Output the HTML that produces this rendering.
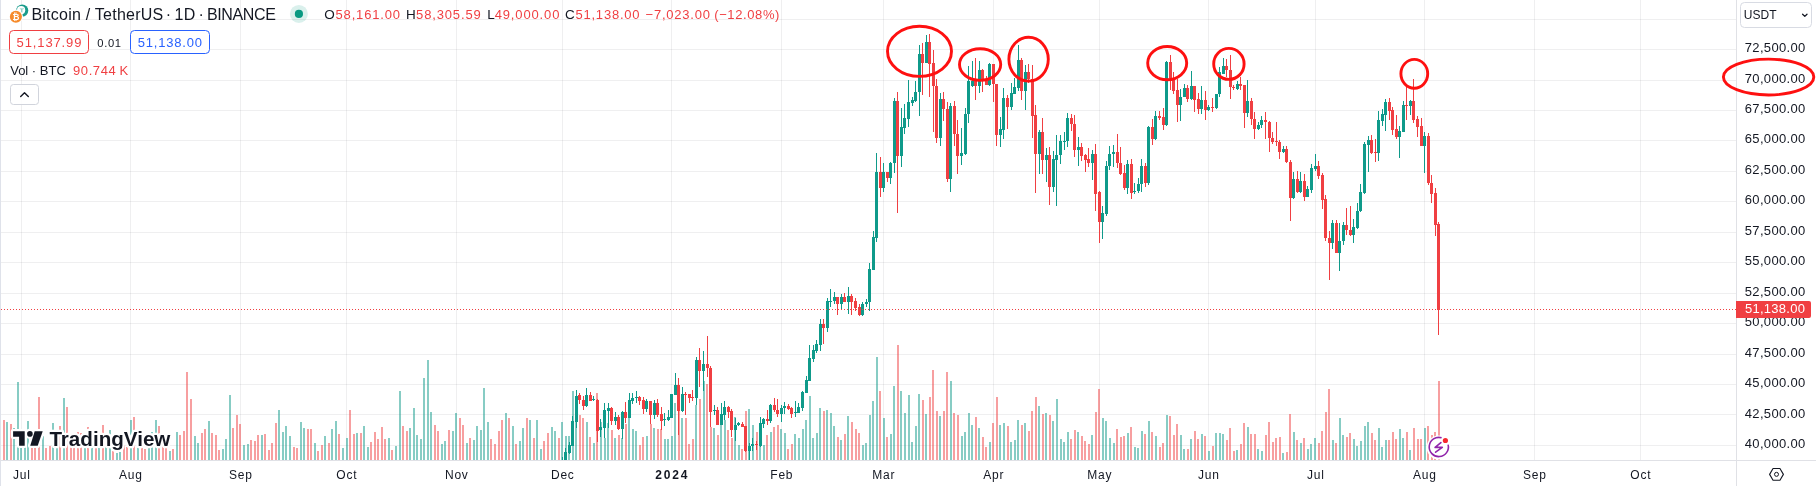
<!DOCTYPE html><html><head><meta charset="utf-8"><title>BTCUSDT chart</title><style>
html,body{margin:0;padding:0;background:#fff;}
#root{position:relative;width:1816px;height:486px;overflow:hidden;background:#fff;}
svg{position:absolute;left:0;top:0;display:block;will-change:transform;}
text{font-family:'Liberation Sans', Arial, sans-serif;}
</style></head><body><div id="root">
<svg width="1816" height="486" viewBox="0 0 1816 486">
<defs><clipPath id="cp"><rect x="1" y="0" width="1735" height="460"/></clipPath></defs>
<rect x="0" y="0" width="1816" height="486" fill="#fff"/>
<path d="M21.5 0V460M130.5 0V460M240.5 0V460M346.5 0V460M456.5 0V460M562.5 0V460M671.5 0V460M781.5 0V460M883.5 0V460M993.5 0V460M1099.5 0V460M1208.5 0V460M1315.5 0V460M1424.5 0V460M1534.5 0V460M1640.5 0V460" stroke="#2a2e39" stroke-opacity="0.075" stroke-width="1" fill="none"/>
<path d="M1 19.5H1736M1 49.5H1736M1 80.5H1736M1 110.5H1736M1 140.5H1736M1 171.5H1736M1 201.5H1736M1 232.5H1736M1 262.5H1736M1 293.5H1736M1 323.5H1736M1 354.5H1736M1 384.5H1736M1 414.5H1736M1 445.5H1736" stroke="#2a2e39" stroke-opacity="0.075" stroke-width="1" fill="none"/>
<path d="M6 422h2V460h-2zM13 428h2V460h-2zM17 382h2V460h-2zM20 438h2V460h-2zM24 438h2V460h-2zM27 421h2V460h-2zM42 436h2V460h-2zM52 423h2V460h-2zM56 438h2V460h-2zM63 398h2V460h-2zM84 438h2V460h-2zM91 438h2V460h-2zM98 438h2V460h-2zM105 438h2V460h-2zM109 430h2V460h-2zM116 453h2V460h-2zM119 452h2V460h-2zM130 420h2V460h-2zM137 438h2V460h-2zM148 438h2V460h-2zM151 432h2V460h-2zM155 420h2V460h-2zM169 451h2V460h-2zM176 432h2V460h-2zM194 436h2V460h-2zM197 443h2V460h-2zM208 421h2V460h-2zM222 449h2V460h-2zM225 439h2V460h-2zM229 395h2V460h-2zM243 445h2V460h-2zM247 444h2V460h-2zM261 435h2V460h-2zM278 410h2V460h-2zM282 432h2V460h-2zM285 426h2V460h-2zM289 436h2V460h-2zM300 422h2V460h-2zM303 428h2V460h-2zM314 443h2V460h-2zM324 436h2V460h-2zM331 429h2V460h-2zM335 421h2V460h-2zM342 448h2V460h-2zM346 438h2V460h-2zM356 433h2V460h-2zM363 426h2V460h-2zM367 447h2V460h-2zM388 438h2V460h-2zM395 446h2V460h-2zM399 391h2V460h-2zM409 428h2V460h-2zM413 408h2V460h-2zM416 435h2V460h-2zM420 439h2V460h-2zM423 378h2V460h-2zM427 360h2V460h-2zM430 412h2V460h-2zM441 444h2V460h-2zM444 441h2V460h-2zM452 431h2V460h-2zM455 413h2V460h-2zM466 443h2V460h-2zM473 440h2V460h-2zM476 426h2V460h-2zM480 430h2V460h-2zM483 388h2V460h-2zM487 422h2V460h-2zM505 413h2V460h-2zM512 426h2V460h-2zM519 441h2V460h-2zM522 428h2V460h-2zM529 420h2V460h-2zM536 420h2V460h-2zM540 449h2V460h-2zM551 427h2V460h-2zM554 431h2V460h-2zM561 422h2V460h-2zM565 436h2V460h-2zM568 436h2V460h-2zM572 391h2V460h-2zM575 405h2V460h-2zM586 422h2V460h-2zM593 443h2V460h-2zM600 422h2V460h-2zM604 438h2V460h-2zM607 423h2V460h-2zM614 438h2V460h-2zM621 438h2V460h-2zM628 418h2V460h-2zM632 429h2V460h-2zM635 431h2V460h-2zM646 436h2V460h-2zM653 428h2V460h-2zM664 439h2V460h-2zM667 439h2V460h-2zM671 436h2V460h-2zM674 403h2V460h-2zM681 418h2V460h-2zM695 405h2V460h-2zM703 381h2V460h-2zM713 428h2V460h-2zM720 425h2V460h-2zM724 420h2V460h-2zM734 417h2V460h-2zM738 445h2V460h-2zM748 409h2V460h-2zM752 425h2V460h-2zM759 445h2V460h-2zM763 445h2V460h-2zM770 432h2V460h-2zM780 429h2V460h-2zM784 433h2V460h-2zM794 434h2V460h-2zM798 438h2V460h-2zM802 429h2V460h-2zM805 420h2V460h-2zM809 396h2V460h-2zM812 438h2V460h-2zM816 433h2V460h-2zM819 408h2V460h-2zM826 410h2V460h-2zM830 413h2V460h-2zM833 426h2V460h-2zM840 440h2V460h-2zM847 416h2V460h-2zM862 445h2V460h-2zM865 443h2V460h-2zM869 415h2V460h-2zM872 401h2V460h-2zM876 357h2V460h-2zM883 418h2V460h-2zM890 434h2V460h-2zM893 386h2V460h-2zM900 391h2V460h-2zM904 413h2V460h-2zM908 395h2V460h-2zM911 442h2V460h-2zM915 426h2V460h-2zM918 394h2V460h-2zM925 414h2V460h-2zM939 416h2V460h-2zM950 381h2V460h-2zM961 436h2V460h-2zM964 432h2V460h-2zM968 413h2V460h-2zM971 425h2V460h-2zM978 428h2V460h-2zM989 442h2V460h-2zM999 425h2V460h-2zM1003 423h2V460h-2zM1010 442h2V460h-2zM1014 440h2V460h-2zM1017 420h2V460h-2zM1024 423h2V460h-2zM1038 406h2V460h-2zM1045 413h2V460h-2zM1052 421h2V460h-2zM1056 399h2V460h-2zM1060 439h2V460h-2zM1063 442h2V460h-2zM1067 432h2V460h-2zM1077 432h2V460h-2zM1091 435h2V460h-2zM1102 418h2V460h-2zM1105 421h2V460h-2zM1109 438h2V460h-2zM1113 443h2V460h-2zM1127 433h2V460h-2zM1134 447h2V460h-2zM1137 448h2V460h-2zM1141 431h2V460h-2zM1148 421h2V460h-2zM1155 436h2V460h-2zM1166 415h2V460h-2zM1180 435h2V460h-2zM1183 449h2V460h-2zM1190 439h2V460h-2zM1201 434h2V460h-2zM1208 451h2V460h-2zM1215 433h2V460h-2zM1219 433h2V460h-2zM1222 434h2V460h-2zM1236 450h2V460h-2zM1247 427h2V460h-2zM1257 449h2V460h-2zM1261 451h2V460h-2zM1282 453h2V460h-2zM1293 432h2V460h-2zM1300 443h2V460h-2zM1307 449h2V460h-2zM1310 444h2V460h-2zM1314 438h2V460h-2zM1332 440h2V460h-2zM1339 418h2V460h-2zM1342 435h2V460h-2zM1353 439h2V460h-2zM1356 446h2V460h-2zM1360 441h2V460h-2zM1364 426h2V460h-2zM1367 422h2V460h-2zM1378 428h2V460h-2zM1381 447h2V460h-2zM1385 440h2V460h-2zM1399 429h2V460h-2zM1402 438h2V460h-2zM1409 450h2V460h-2zM1424 428h2V460h-2z" fill="#0f9a8a" fill-opacity="0.5"/>
<path d="M3 420h2V460h-2zM10 424h2V460h-2zM31 438h2V460h-2zM34 438h2V460h-2zM38 397h2V460h-2zM45 448h2V460h-2zM49 446h2V460h-2zM59 426h2V460h-2zM66 407h2V460h-2zM70 438h2V460h-2zM73 438h2V460h-2zM77 432h2V460h-2zM80 433h2V460h-2zM87 427h2V460h-2zM95 438h2V460h-2zM102 425h2V460h-2zM112 451h2V460h-2zM123 445h2V460h-2zM126 447h2V460h-2zM133 417h2V460h-2zM141 438h2V460h-2zM144 449h2V460h-2zM158 426h2V460h-2zM162 440h2V460h-2zM165 448h2V460h-2zM172 449h2V460h-2zM179 435h2V460h-2zM183 431h2V460h-2zM186 372h2V460h-2zM190 399h2V460h-2zM201 433h2V460h-2zM204 429h2V460h-2zM211 433h2V460h-2zM215 435h2V460h-2zM218 450h2V460h-2zM232 428h2V460h-2zM236 415h2V460h-2zM239 424h2V460h-2zM250 440h2V460h-2zM254 441h2V460h-2zM257 435h2V460h-2zM264 434h2V460h-2zM268 450h2V460h-2zM271 443h2V460h-2zM275 423h2V460h-2zM293 447h2V460h-2zM296 448h2V460h-2zM307 429h2V460h-2zM310 429h2V460h-2zM317 451h2V460h-2zM321 445h2V460h-2zM328 443h2V460h-2zM338 434h2V460h-2zM349 410h2V460h-2zM353 434h2V460h-2zM360 433h2V460h-2zM370 442h2V460h-2zM374 432h2V460h-2zM377 439h2V460h-2zM381 427h2V460h-2zM384 439h2V460h-2zM391 450h2V460h-2zM402 426h2V460h-2zM406 431h2V460h-2zM434 425h2V460h-2zM437 431h2V460h-2zM448 430h2V460h-2zM459 418h2V460h-2zM462 425h2V460h-2zM469 438h2V460h-2zM490 439h2V460h-2zM494 444h2V460h-2zM498 431h2V460h-2zM501 420h2V460h-2zM508 418h2V460h-2zM515 444h2V460h-2zM526 418h2V460h-2zM533 438h2V460h-2zM543 441h2V460h-2zM547 433h2V460h-2zM558 438h2V460h-2zM579 415h2V460h-2zM582 418h2V460h-2zM589 437h2V460h-2zM596 393h2V460h-2zM611 430h2V460h-2zM618 435h2V460h-2zM625 424h2V460h-2zM639 445h2V460h-2zM642 437h2V460h-2zM650 424h2V460h-2zM657 429h2V460h-2zM660 429h2V460h-2zM678 400h2V460h-2zM685 418h2V460h-2zM688 444h2V460h-2zM692 439h2V460h-2zM699 399h2V460h-2zM706 384h2V460h-2zM710 427h2V460h-2zM717 435h2V460h-2zM727 430h2V460h-2zM731 438h2V460h-2zM741 449h2V460h-2zM745 411h2V460h-2zM756 432h2V460h-2zM766 435h2V460h-2zM773 427h2V460h-2zM777 425h2V460h-2zM787 449h2V460h-2zM791 444h2V460h-2zM823 411h2V460h-2zM837 437h2V460h-2zM844 434h2V460h-2zM851 422h2V460h-2zM855 429h2V460h-2zM858 433h2V460h-2zM879 391h2V460h-2zM886 437h2V460h-2zM897 345h2V460h-2zM922 400h2V460h-2zM929 397h2V460h-2zM932 370h2V460h-2zM936 411h2V460h-2zM943 411h2V460h-2zM946 372h2V460h-2zM953 413h2V460h-2zM957 415h2V460h-2zM975 417h2V460h-2zM982 437h2V460h-2zM985 447h2V460h-2zM992 423h2V460h-2zM996 397h2V460h-2zM1007 426h2V460h-2zM1021 425h2V460h-2zM1028 431h2V460h-2zM1031 411h2V460h-2zM1035 397h2V460h-2zM1042 414h2V460h-2zM1049 415h2V460h-2zM1070 439h2V460h-2zM1074 430h2V460h-2zM1081 436h2V460h-2zM1084 441h2V460h-2zM1088 444h2V460h-2zM1095 412h2V460h-2zM1098 389h2V460h-2zM1116 429h2V460h-2zM1120 437h2V460h-2zM1123 436h2V460h-2zM1130 427h2V460h-2zM1144 434h2V460h-2zM1151 432h2V460h-2zM1159 447h2V460h-2zM1162 443h2V460h-2zM1169 416h2V460h-2zM1173 435h2V460h-2zM1176 424h2V460h-2zM1187 449h2V460h-2zM1194 431h2V460h-2zM1197 439h2V460h-2zM1204 436h2V460h-2zM1212 446h2V460h-2zM1226 440h2V460h-2zM1229 428h2V460h-2zM1233 451h2V460h-2zM1240 444h2V460h-2zM1243 423h2V460h-2zM1250 434h2V460h-2zM1254 434h2V460h-2zM1265 435h2V460h-2zM1268 422h2V460h-2zM1272 442h2V460h-2zM1275 438h2V460h-2zM1279 437h2V460h-2zM1286 452h2V460h-2zM1289 414h2V460h-2zM1296 440h2V460h-2zM1303 438h2V460h-2zM1318 443h2V460h-2zM1321 431h2V460h-2zM1325 412h2V460h-2zM1328 389h2V460h-2zM1335 443h2V460h-2zM1346 437h2V460h-2zM1349 433h2V460h-2zM1371 433h2V460h-2zM1374 440h2V460h-2zM1388 440h2V460h-2zM1392 432h2V460h-2zM1395 439h2V460h-2zM1406 432h2V460h-2zM1413 428h2V460h-2zM1417 439h2V460h-2zM1420 439h2V460h-2zM1427 426h2V460h-2zM1431 435h2V460h-2zM1434 432h2V460h-2zM1438 381h2V460h-2z" fill="#f03f42" fill-opacity="0.5"/>
<g clip-path="url(#cp)"><path d="M561 461h3v9h-3zM562 457h1v13h-1zM564 452h3v9h-3zM565 448h1v14h-1zM568 445h3v8h-3zM569 442h1v12h-1zM571 421h3v25h-3zM572 416h1v30h-1zM575 396h3v26h-3zM576 390h1v38h-1zM585 395h3v11h-3zM586 388h1v19h-1zM592 399h3v1h-3zM593 396h1v5h-1zM599 427h3v3h-3zM600 419h1v18h-1zM603 410h3v18h-3zM604 403h1v35h-1zM607 408h3v3h-3zM608 403h1v25h-1zM614 417h3v4h-3zM615 412h1v13h-1zM621 412h3v17h-3zM622 411h1v28h-1zM628 400h3v18h-3zM629 393h1v25h-1zM631 398h3v3h-3zM632 393h1v11h-1zM635 397h3v1h-3zM636 391h1v12h-1zM645 401h3v8h-3zM646 399h1v13h-1zM653 403h3v12h-3zM654 400h1v19h-1zM663 419h3v1h-3zM664 413h1v13h-1zM667 417h3v3h-3zM668 410h1v11h-1zM670 394h3v24h-3zM671 394h1v24h-1zM674 385h3v10h-3zM675 373h1v22h-1zM681 394h3v17h-3zM682 387h1v25h-1zM695 360h3v38h-3zM696 357h1v48h-1zM702 364h3v7h-3zM703 351h1v40h-1zM713 410h3v1h-3zM714 405h1v10h-1zM720 414h3v11h-3zM721 403h1v22h-1zM723 407h3v8h-3zM724 401h1v19h-1zM734 425h3v5h-3zM735 418h1v23h-1zM737 423h3v2h-3zM738 422h1v4h-1zM748 446h3v5h-3zM749 443h1v17h-1zM751 444h3v2h-3zM752 438h1v13h-1zM759 423h3v23h-3zM760 417h1v30h-1zM762 419h3v5h-3zM763 418h1v10h-1zM769 405h3v16h-3zM770 404h1v19h-1zM780 408h3v6h-3zM781 405h1v17h-1zM783 406h3v2h-3zM784 402h1v12h-1zM794 412h3v1h-3zM795 401h1v16h-1zM797 407h3v6h-3zM798 403h1v10h-1zM801 392h3v16h-3zM802 391h1v20h-1zM805 380h3v13h-3zM806 376h1v17h-1zM808 358h3v23h-3zM809 345h1v36h-1zM812 350h3v9h-3zM813 345h1v17h-1zM815 344h3v7h-3zM816 340h1v13h-1zM819 324h3v21h-3zM820 319h1v32h-1zM826 301h3v27h-3zM827 298h1v34h-1zM829 301h3v1h-3zM830 289h1v18h-1zM833 297h3v4h-3zM834 292h1v12h-1zM840 297h3v7h-3zM841 294h1v15h-1zM847 296h3v6h-3zM848 287h1v27h-1zM861 304h3v11h-3zM862 302h1v14h-1zM865 302h3v2h-3zM866 299h1v8h-1zM868 269h3v33h-3zM869 263h1v48h-1zM872 237h3v33h-3zM873 231h1v39h-1zM875 172h3v66h-3zM876 153h1v89h-1zM882 172h3v16h-3zM883 163h1v29h-1zM889 163h3v15h-3zM890 162h1v22h-1zM893 101h3v62h-3zM894 98h1v75h-1zM900 127h3v29h-3zM901 108h1v59h-1zM903 118h3v10h-3zM904 104h1v30h-1zM907 102h3v17h-3zM908 80h1v47h-1zM911 100h3v3h-3zM912 97h1v9h-1zM914 92h3v9h-3zM915 81h1v21h-1zM918 54h3v38h-3zM919 45h1v71h-1zM925 42h3v21h-3zM926 35h1v28h-1zM939 99h3v39h-3zM940 93h1v53h-1zM949 106h3v73h-3zM950 103h1v89h-1zM960 153h3v3h-3zM961 128h1v37h-1zM964 114h3v40h-3zM965 108h1v47h-1zM967 81h3v33h-3zM968 66h1v57h-1zM971 81h3v5h-3zM972 61h1v26h-1zM978 70h3v16h-3zM979 61h1v32h-1zM988 64h3v21h-3zM989 63h1v23h-1zM999 129h3v6h-3zM1000 117h1v30h-1zM1002 98h3v32h-3zM1003 88h1v51h-1zM1010 93h3v14h-3zM1011 83h1v27h-1zM1013 87h3v7h-3zM1014 78h1v16h-1zM1017 60h3v28h-3zM1018 45h1v46h-1zM1024 72h3v19h-3zM1025 65h1v45h-1zM1038 132h3v22h-3zM1039 130h1v44h-1zM1045 155h3v5h-3zM1046 148h1v34h-1zM1052 159h3v28h-3zM1053 151h1v41h-1zM1055 155h3v5h-3zM1056 135h1v71h-1zM1059 141h3v14h-3zM1060 135h1v29h-1zM1063 141h3v1h-3zM1064 132h1v18h-1zM1066 118h3v23h-3zM1067 113h1v34h-1zM1077 147h3v3h-3zM1078 137h1v29h-1zM1091 154h3v9h-3zM1092 150h1v30h-1zM1101 213h3v9h-3zM1102 206h1v33h-1zM1105 166h3v48h-3zM1106 161h1v55h-1zM1108 154h3v12h-3zM1109 146h1v24h-1zM1112 152h3v2h-3zM1113 145h1v22h-1zM1126 164h3v24h-3zM1127 160h1v34h-1zM1133 191h3v1h-3zM1134 183h1v11h-1zM1137 184h3v7h-3zM1138 178h1v15h-1zM1140 166h3v18h-3zM1141 159h1v33h-1zM1147 127h3v56h-3zM1148 126h1v59h-1zM1154 116h3v23h-3zM1155 111h1v29h-1zM1165 62h3v63h-3zM1166 61h1v65h-1zM1179 97h3v8h-3zM1180 89h1v32h-1zM1183 88h3v9h-3zM1184 84h1v13h-1zM1190 86h3v13h-3zM1191 71h1v29h-1zM1200 100h3v9h-3zM1201 86h1v28h-1zM1207 107h3v3h-3zM1208 105h1v6h-1zM1215 94h3v14h-3zM1216 94h1v15h-1zM1218 72h3v22h-3zM1219 67h1v30h-1zM1222 66h3v8h-3zM1223 58h1v16h-1zM1236 84h3v5h-3zM1237 81h1v9h-1zM1246 101h3v12h-3zM1247 80h1v37h-1zM1257 125h3v4h-3zM1258 122h1v8h-1zM1260 120h3v5h-3zM1261 116h1v12h-1zM1282 149h3v3h-3zM1283 146h1v7h-1zM1292 179h3v19h-3zM1293 172h1v27h-1zM1299 181h3v11h-3zM1300 172h1v21h-1zM1306 189h3v8h-3zM1307 186h1v11h-1zM1310 168h3v22h-3zM1311 164h1v29h-1zM1314 166h3v3h-3zM1315 154h1v17h-1zM1331 223h3v20h-3zM1332 220h1v29h-1zM1338 241h3v12h-3zM1339 223h1v48h-1zM1342 225h3v16h-3zM1343 222h1v23h-1zM1352 227h3v8h-3zM1353 219h1v24h-1zM1356 211h3v17h-3zM1357 203h1v26h-1zM1359 192h3v19h-3zM1360 184h1v28h-1zM1363 144h3v49h-3zM1364 142h1v52h-1zM1367 140h3v5h-3zM1368 136h1v36h-1zM1377 120h3v33h-3zM1378 111h1v50h-1zM1381 114h3v7h-3zM1382 109h1v17h-1zM1384 102h3v13h-3zM1385 99h1v32h-1zM1398 131h3v6h-3zM1399 126h1v32h-1zM1402 105h3v27h-3zM1403 101h1v31h-1zM1409 101h3v5h-3zM1410 100h1v15h-1zM1423 136h3v10h-3zM1424 132h1v41h-1z" fill="#0f9a8a"/><path d="M578 395h3v5h-3zM579 393h1v11h-1zM582 400h3v6h-3zM583 396h1v14h-1zM589 395h3v6h-3zM590 392h1v9h-1zM596 400h3v31h-3zM597 399h1v43h-1zM610 408h3v13h-3zM611 407h1v18h-1zM617 417h3v12h-3zM618 415h1v15h-1zM624 412h3v6h-3zM625 402h1v21h-1zM638 397h3v4h-3zM639 396h1v9h-1zM642 400h3v9h-3zM643 397h1v17h-1zM649 401h3v14h-3zM650 401h1v23h-1zM656 403h3v12h-3zM657 399h1v18h-1zM660 414h3v7h-3zM661 407h1v23h-1zM677 385h3v26h-3zM678 378h1v57h-1zM684 394h3v1h-3zM685 392h1v23h-1zM688 394h3v4h-3zM689 394h1v9h-1zM691 397h3v1h-3zM692 390h1v11h-1zM698 360h3v11h-3zM699 348h1v39h-1zM706 364h3v4h-3zM707 336h1v41h-1zM709 368h3v44h-3zM710 366h1v61h-1zM716 410h3v15h-3zM717 407h1v18h-1zM727 407h3v5h-3zM728 406h1v12h-1zM730 411h3v19h-3zM731 409h1v28h-1zM741 424h3v3h-3zM742 422h1v5h-1zM744 426h3v25h-3zM745 426h1v26h-1zM755 444h3v1h-3zM756 441h1v9h-1zM766 419h3v2h-3zM767 410h1v15h-1zM773 405h3v5h-3zM774 398h1v14h-1zM776 410h3v4h-3zM777 399h1v18h-1zM787 406h3v3h-3zM788 404h1v6h-1zM790 408h3v6h-3zM791 407h1v11h-1zM822 324h3v4h-3zM823 319h1v25h-1zM836 297h3v7h-3zM837 297h1v18h-1zM843 297h3v5h-3zM844 293h1v9h-1zM850 296h3v6h-3zM851 294h1v21h-1zM854 301h3v7h-3zM855 298h1v13h-1zM858 307h3v8h-3zM859 304h1v12h-1zM879 172h3v16h-3zM880 157h1v40h-1zM886 172h3v6h-3zM887 172h1v10h-1zM896 101h3v55h-3zM897 92h1v121h-1zM921 54h3v9h-3zM922 43h1v52h-1zM928 42h3v22h-3zM929 34h1v63h-1zM932 63h3v23h-3zM933 50h1v82h-1zM935 86h3v52h-3zM936 79h1v64h-1zM942 99h3v10h-3zM943 92h1v29h-1zM946 109h3v70h-3zM947 102h1v80h-1zM953 106h3v28h-3zM954 101h1v45h-1zM956 134h3v22h-3zM957 120h1v54h-1zM974 81h3v5h-3zM975 58h1v42h-1zM981 70h3v10h-3zM982 69h1v23h-1zM985 81h3v4h-3zM986 76h1v9h-1zM992 64h3v20h-3zM993 64h1v38h-1zM995 84h3v51h-3zM996 84h1v62h-1zM1006 98h3v9h-3zM1007 95h1v34h-1zM1020 60h3v31h-3zM1021 58h1v42h-1zM1027 72h3v7h-3zM1028 64h1v19h-1zM1031 79h3v37h-3zM1032 65h1v73h-1zM1034 115h3v39h-3zM1035 105h1v88h-1zM1041 132h3v28h-3zM1042 118h1v56h-1zM1048 155h3v32h-3zM1049 147h1v58h-1zM1070 118h3v6h-3zM1071 114h1v17h-1zM1073 124h3v26h-3zM1074 115h1v42h-1zM1080 147h3v9h-3zM1081 143h1v18h-1zM1084 155h3v5h-3zM1085 154h1v18h-1zM1087 159h3v4h-3zM1088 148h1v19h-1zM1094 154h3v40h-3zM1095 144h1v67h-1zM1098 192h3v30h-3zM1099 191h1v52h-1zM1116 152h3v11h-3zM1117 134h1v34h-1zM1119 163h3v11h-3zM1120 147h1v28h-1zM1123 173h3v15h-3zM1124 165h1v25h-1zM1130 164h3v29h-3zM1131 159h1v40h-1zM1144 166h3v17h-3zM1145 163h1v24h-1zM1151 127h3v12h-3zM1152 119h1v26h-1zM1158 116h3v2h-3zM1159 111h1v9h-1zM1162 117h3v8h-3zM1163 108h1v22h-1zM1169 62h3v16h-3zM1170 55h1v35h-1zM1172 78h3v13h-3zM1173 72h1v22h-1zM1176 90h3v15h-3zM1177 79h1v43h-1zM1186 88h3v11h-3zM1187 85h1v17h-1zM1193 86h3v14h-3zM1194 86h1v26h-1zM1197 99h3v10h-3zM1198 93h1v21h-1zM1204 100h3v10h-3zM1205 91h1v29h-1zM1211 107h3v1h-3zM1212 98h1v14h-1zM1225 66h3v4h-3zM1226 59h1v18h-1zM1229 70h3v17h-3zM1230 55h1v44h-1zM1232 87h3v1h-3zM1233 85h1v5h-1zM1239 84h3v2h-3zM1240 77h1v13h-1zM1243 85h3v28h-3zM1244 85h1v43h-1zM1250 101h3v18h-3zM1251 98h1v27h-1zM1253 119h3v10h-3zM1254 112h1v27h-1zM1264 120h3v2h-3zM1265 112h1v27h-1zM1268 122h3v16h-3zM1269 121h1v31h-1zM1271 138h3v4h-3zM1272 132h1v12h-1zM1275 141h3v1h-3zM1276 122h1v24h-1zM1278 142h3v10h-3zM1279 140h1v19h-1zM1285 149h3v13h-3zM1286 146h1v17h-1zM1289 162h3v36h-3zM1290 160h1v61h-1zM1296 179h3v13h-3zM1297 171h1v22h-1zM1303 181h3v16h-3zM1304 174h1v27h-1zM1317 166h3v10h-3zM1318 161h1v18h-1zM1321 175h3v25h-3zM1322 173h1v36h-1zM1324 199h3v39h-3zM1325 195h1v46h-1zM1328 238h3v5h-3zM1329 231h1v49h-1zM1335 223h3v30h-3zM1336 220h1v33h-1zM1345 225h3v5h-3zM1346 208h1v27h-1zM1349 230h3v5h-3zM1350 206h1v30h-1zM1370 140h3v13h-3zM1371 135h1v19h-1zM1374 152h3v1h-3zM1375 139h1v23h-1zM1388 102h3v9h-3zM1389 98h1v22h-1zM1391 110h3v20h-3zM1392 107h1v28h-1zM1395 129h3v8h-3zM1396 115h1v24h-1zM1405 105h3v1h-3zM1406 87h1v33h-1zM1412 101h3v19h-3zM1413 79h1v44h-1zM1416 119h3v8h-3zM1417 116h1v21h-1zM1420 126h3v20h-3zM1421 118h1v28h-1zM1427 136h3v47h-3zM1428 133h1v52h-1zM1430 183h3v11h-3zM1431 175h1v28h-1zM1434 193h3v32h-3zM1435 188h1v48h-1zM1437 224h3v86h-3zM1438 222h1v113h-1z" fill="#f03f42"/></g>
<path d="M1 309h1v1h-1zM4 309h1v1h-1zM7 309h1v1h-1zM10 309h1v1h-1zM13 309h1v1h-1zM16 309h1v1h-1zM19 309h1v1h-1zM22 309h1v1h-1zM25 309h1v1h-1zM28 309h1v1h-1zM31 309h1v1h-1zM34 309h1v1h-1zM37 309h1v1h-1zM40 309h1v1h-1zM43 309h1v1h-1zM46 309h1v1h-1zM49 309h1v1h-1zM52 309h1v1h-1zM55 309h1v1h-1zM58 309h1v1h-1zM61 309h1v1h-1zM64 309h1v1h-1zM67 309h1v1h-1zM70 309h1v1h-1zM73 309h1v1h-1zM76 309h1v1h-1zM79 309h1v1h-1zM82 309h1v1h-1zM85 309h1v1h-1zM88 309h1v1h-1zM91 309h1v1h-1zM94 309h1v1h-1zM97 309h1v1h-1zM100 309h1v1h-1zM103 309h1v1h-1zM106 309h1v1h-1zM109 309h1v1h-1zM112 309h1v1h-1zM115 309h1v1h-1zM118 309h1v1h-1zM121 309h1v1h-1zM124 309h1v1h-1zM127 309h1v1h-1zM130 309h1v1h-1zM133 309h1v1h-1zM136 309h1v1h-1zM139 309h1v1h-1zM142 309h1v1h-1zM145 309h1v1h-1zM148 309h1v1h-1zM151 309h1v1h-1zM154 309h1v1h-1zM157 309h1v1h-1zM160 309h1v1h-1zM163 309h1v1h-1zM166 309h1v1h-1zM169 309h1v1h-1zM172 309h1v1h-1zM175 309h1v1h-1zM178 309h1v1h-1zM181 309h1v1h-1zM184 309h1v1h-1zM187 309h1v1h-1zM190 309h1v1h-1zM193 309h1v1h-1zM196 309h1v1h-1zM199 309h1v1h-1zM202 309h1v1h-1zM205 309h1v1h-1zM208 309h1v1h-1zM211 309h1v1h-1zM214 309h1v1h-1zM217 309h1v1h-1zM220 309h1v1h-1zM223 309h1v1h-1zM226 309h1v1h-1zM229 309h1v1h-1zM232 309h1v1h-1zM235 309h1v1h-1zM238 309h1v1h-1zM241 309h1v1h-1zM244 309h1v1h-1zM247 309h1v1h-1zM250 309h1v1h-1zM253 309h1v1h-1zM256 309h1v1h-1zM259 309h1v1h-1zM262 309h1v1h-1zM265 309h1v1h-1zM268 309h1v1h-1zM271 309h1v1h-1zM274 309h1v1h-1zM277 309h1v1h-1zM280 309h1v1h-1zM283 309h1v1h-1zM286 309h1v1h-1zM289 309h1v1h-1zM292 309h1v1h-1zM295 309h1v1h-1zM298 309h1v1h-1zM301 309h1v1h-1zM304 309h1v1h-1zM307 309h1v1h-1zM310 309h1v1h-1zM313 309h1v1h-1zM316 309h1v1h-1zM319 309h1v1h-1zM322 309h1v1h-1zM325 309h1v1h-1zM328 309h1v1h-1zM331 309h1v1h-1zM334 309h1v1h-1zM337 309h1v1h-1zM340 309h1v1h-1zM343 309h1v1h-1zM346 309h1v1h-1zM349 309h1v1h-1zM352 309h1v1h-1zM355 309h1v1h-1zM358 309h1v1h-1zM361 309h1v1h-1zM364 309h1v1h-1zM367 309h1v1h-1zM370 309h1v1h-1zM373 309h1v1h-1zM376 309h1v1h-1zM379 309h1v1h-1zM382 309h1v1h-1zM385 309h1v1h-1zM388 309h1v1h-1zM391 309h1v1h-1zM394 309h1v1h-1zM397 309h1v1h-1zM400 309h1v1h-1zM403 309h1v1h-1zM406 309h1v1h-1zM409 309h1v1h-1zM412 309h1v1h-1zM415 309h1v1h-1zM418 309h1v1h-1zM421 309h1v1h-1zM424 309h1v1h-1zM427 309h1v1h-1zM430 309h1v1h-1zM433 309h1v1h-1zM436 309h1v1h-1zM439 309h1v1h-1zM442 309h1v1h-1zM445 309h1v1h-1zM448 309h1v1h-1zM451 309h1v1h-1zM454 309h1v1h-1zM457 309h1v1h-1zM460 309h1v1h-1zM463 309h1v1h-1zM466 309h1v1h-1zM469 309h1v1h-1zM472 309h1v1h-1zM475 309h1v1h-1zM478 309h1v1h-1zM481 309h1v1h-1zM484 309h1v1h-1zM487 309h1v1h-1zM490 309h1v1h-1zM493 309h1v1h-1zM496 309h1v1h-1zM499 309h1v1h-1zM502 309h1v1h-1zM505 309h1v1h-1zM508 309h1v1h-1zM511 309h1v1h-1zM514 309h1v1h-1zM517 309h1v1h-1zM520 309h1v1h-1zM523 309h1v1h-1zM526 309h1v1h-1zM529 309h1v1h-1zM532 309h1v1h-1zM535 309h1v1h-1zM538 309h1v1h-1zM541 309h1v1h-1zM544 309h1v1h-1zM547 309h1v1h-1zM550 309h1v1h-1zM553 309h1v1h-1zM556 309h1v1h-1zM559 309h1v1h-1zM562 309h1v1h-1zM565 309h1v1h-1zM568 309h1v1h-1zM571 309h1v1h-1zM574 309h1v1h-1zM577 309h1v1h-1zM580 309h1v1h-1zM583 309h1v1h-1zM586 309h1v1h-1zM589 309h1v1h-1zM592 309h1v1h-1zM595 309h1v1h-1zM598 309h1v1h-1zM601 309h1v1h-1zM604 309h1v1h-1zM607 309h1v1h-1zM610 309h1v1h-1zM613 309h1v1h-1zM616 309h1v1h-1zM619 309h1v1h-1zM622 309h1v1h-1zM625 309h1v1h-1zM628 309h1v1h-1zM631 309h1v1h-1zM634 309h1v1h-1zM637 309h1v1h-1zM640 309h1v1h-1zM643 309h1v1h-1zM646 309h1v1h-1zM649 309h1v1h-1zM652 309h1v1h-1zM655 309h1v1h-1zM658 309h1v1h-1zM661 309h1v1h-1zM664 309h1v1h-1zM667 309h1v1h-1zM670 309h1v1h-1zM673 309h1v1h-1zM676 309h1v1h-1zM679 309h1v1h-1zM682 309h1v1h-1zM685 309h1v1h-1zM688 309h1v1h-1zM691 309h1v1h-1zM694 309h1v1h-1zM697 309h1v1h-1zM700 309h1v1h-1zM703 309h1v1h-1zM706 309h1v1h-1zM709 309h1v1h-1zM712 309h1v1h-1zM715 309h1v1h-1zM718 309h1v1h-1zM721 309h1v1h-1zM724 309h1v1h-1zM727 309h1v1h-1zM730 309h1v1h-1zM733 309h1v1h-1zM736 309h1v1h-1zM739 309h1v1h-1zM742 309h1v1h-1zM745 309h1v1h-1zM748 309h1v1h-1zM751 309h1v1h-1zM754 309h1v1h-1zM757 309h1v1h-1zM760 309h1v1h-1zM763 309h1v1h-1zM766 309h1v1h-1zM769 309h1v1h-1zM772 309h1v1h-1zM775 309h1v1h-1zM778 309h1v1h-1zM781 309h1v1h-1zM784 309h1v1h-1zM787 309h1v1h-1zM790 309h1v1h-1zM793 309h1v1h-1zM796 309h1v1h-1zM799 309h1v1h-1zM802 309h1v1h-1zM805 309h1v1h-1zM808 309h1v1h-1zM811 309h1v1h-1zM814 309h1v1h-1zM817 309h1v1h-1zM820 309h1v1h-1zM823 309h1v1h-1zM826 309h1v1h-1zM829 309h1v1h-1zM832 309h1v1h-1zM835 309h1v1h-1zM838 309h1v1h-1zM841 309h1v1h-1zM844 309h1v1h-1zM847 309h1v1h-1zM850 309h1v1h-1zM853 309h1v1h-1zM856 309h1v1h-1zM859 309h1v1h-1zM862 309h1v1h-1zM865 309h1v1h-1zM868 309h1v1h-1zM871 309h1v1h-1zM874 309h1v1h-1zM877 309h1v1h-1zM880 309h1v1h-1zM883 309h1v1h-1zM886 309h1v1h-1zM889 309h1v1h-1zM892 309h1v1h-1zM895 309h1v1h-1zM898 309h1v1h-1zM901 309h1v1h-1zM904 309h1v1h-1zM907 309h1v1h-1zM910 309h1v1h-1zM913 309h1v1h-1zM916 309h1v1h-1zM919 309h1v1h-1zM922 309h1v1h-1zM925 309h1v1h-1zM928 309h1v1h-1zM931 309h1v1h-1zM934 309h1v1h-1zM937 309h1v1h-1zM940 309h1v1h-1zM943 309h1v1h-1zM946 309h1v1h-1zM949 309h1v1h-1zM952 309h1v1h-1zM955 309h1v1h-1zM958 309h1v1h-1zM961 309h1v1h-1zM964 309h1v1h-1zM967 309h1v1h-1zM970 309h1v1h-1zM973 309h1v1h-1zM976 309h1v1h-1zM979 309h1v1h-1zM982 309h1v1h-1zM985 309h1v1h-1zM988 309h1v1h-1zM991 309h1v1h-1zM994 309h1v1h-1zM997 309h1v1h-1zM1000 309h1v1h-1zM1003 309h1v1h-1zM1006 309h1v1h-1zM1009 309h1v1h-1zM1012 309h1v1h-1zM1015 309h1v1h-1zM1018 309h1v1h-1zM1021 309h1v1h-1zM1024 309h1v1h-1zM1027 309h1v1h-1zM1030 309h1v1h-1zM1033 309h1v1h-1zM1036 309h1v1h-1zM1039 309h1v1h-1zM1042 309h1v1h-1zM1045 309h1v1h-1zM1048 309h1v1h-1zM1051 309h1v1h-1zM1054 309h1v1h-1zM1057 309h1v1h-1zM1060 309h1v1h-1zM1063 309h1v1h-1zM1066 309h1v1h-1zM1069 309h1v1h-1zM1072 309h1v1h-1zM1075 309h1v1h-1zM1078 309h1v1h-1zM1081 309h1v1h-1zM1084 309h1v1h-1zM1087 309h1v1h-1zM1090 309h1v1h-1zM1093 309h1v1h-1zM1096 309h1v1h-1zM1099 309h1v1h-1zM1102 309h1v1h-1zM1105 309h1v1h-1zM1108 309h1v1h-1zM1111 309h1v1h-1zM1114 309h1v1h-1zM1117 309h1v1h-1zM1120 309h1v1h-1zM1123 309h1v1h-1zM1126 309h1v1h-1zM1129 309h1v1h-1zM1132 309h1v1h-1zM1135 309h1v1h-1zM1138 309h1v1h-1zM1141 309h1v1h-1zM1144 309h1v1h-1zM1147 309h1v1h-1zM1150 309h1v1h-1zM1153 309h1v1h-1zM1156 309h1v1h-1zM1159 309h1v1h-1zM1162 309h1v1h-1zM1165 309h1v1h-1zM1168 309h1v1h-1zM1171 309h1v1h-1zM1174 309h1v1h-1zM1177 309h1v1h-1zM1180 309h1v1h-1zM1183 309h1v1h-1zM1186 309h1v1h-1zM1189 309h1v1h-1zM1192 309h1v1h-1zM1195 309h1v1h-1zM1198 309h1v1h-1zM1201 309h1v1h-1zM1204 309h1v1h-1zM1207 309h1v1h-1zM1210 309h1v1h-1zM1213 309h1v1h-1zM1216 309h1v1h-1zM1219 309h1v1h-1zM1222 309h1v1h-1zM1225 309h1v1h-1zM1228 309h1v1h-1zM1231 309h1v1h-1zM1234 309h1v1h-1zM1237 309h1v1h-1zM1240 309h1v1h-1zM1243 309h1v1h-1zM1246 309h1v1h-1zM1249 309h1v1h-1zM1252 309h1v1h-1zM1255 309h1v1h-1zM1258 309h1v1h-1zM1261 309h1v1h-1zM1264 309h1v1h-1zM1267 309h1v1h-1zM1270 309h1v1h-1zM1273 309h1v1h-1zM1276 309h1v1h-1zM1279 309h1v1h-1zM1282 309h1v1h-1zM1285 309h1v1h-1zM1288 309h1v1h-1zM1291 309h1v1h-1zM1294 309h1v1h-1zM1297 309h1v1h-1zM1300 309h1v1h-1zM1303 309h1v1h-1zM1306 309h1v1h-1zM1309 309h1v1h-1zM1312 309h1v1h-1zM1315 309h1v1h-1zM1318 309h1v1h-1zM1321 309h1v1h-1zM1324 309h1v1h-1zM1327 309h1v1h-1zM1330 309h1v1h-1zM1333 309h1v1h-1zM1336 309h1v1h-1zM1339 309h1v1h-1zM1342 309h1v1h-1zM1345 309h1v1h-1zM1348 309h1v1h-1zM1351 309h1v1h-1zM1354 309h1v1h-1zM1357 309h1v1h-1zM1360 309h1v1h-1zM1363 309h1v1h-1zM1366 309h1v1h-1zM1369 309h1v1h-1zM1372 309h1v1h-1zM1375 309h1v1h-1zM1378 309h1v1h-1zM1381 309h1v1h-1zM1384 309h1v1h-1zM1387 309h1v1h-1zM1390 309h1v1h-1zM1393 309h1v1h-1zM1396 309h1v1h-1zM1399 309h1v1h-1zM1402 309h1v1h-1zM1405 309h1v1h-1zM1408 309h1v1h-1zM1411 309h1v1h-1zM1414 309h1v1h-1zM1417 309h1v1h-1zM1420 309h1v1h-1zM1423 309h1v1h-1zM1426 309h1v1h-1zM1429 309h1v1h-1zM1432 309h1v1h-1zM1435 309h1v1h-1zM1438 309h1v1h-1zM1441 309h1v1h-1zM1444 309h1v1h-1zM1447 309h1v1h-1zM1450 309h1v1h-1zM1453 309h1v1h-1zM1456 309h1v1h-1zM1459 309h1v1h-1zM1462 309h1v1h-1zM1465 309h1v1h-1zM1468 309h1v1h-1zM1471 309h1v1h-1zM1474 309h1v1h-1zM1477 309h1v1h-1zM1480 309h1v1h-1zM1483 309h1v1h-1zM1486 309h1v1h-1zM1489 309h1v1h-1zM1492 309h1v1h-1zM1495 309h1v1h-1zM1498 309h1v1h-1zM1501 309h1v1h-1zM1504 309h1v1h-1zM1507 309h1v1h-1zM1510 309h1v1h-1zM1513 309h1v1h-1zM1516 309h1v1h-1zM1519 309h1v1h-1zM1522 309h1v1h-1zM1525 309h1v1h-1zM1528 309h1v1h-1zM1531 309h1v1h-1zM1534 309h1v1h-1zM1537 309h1v1h-1zM1540 309h1v1h-1zM1543 309h1v1h-1zM1546 309h1v1h-1zM1549 309h1v1h-1zM1552 309h1v1h-1zM1555 309h1v1h-1zM1558 309h1v1h-1zM1561 309h1v1h-1zM1564 309h1v1h-1zM1567 309h1v1h-1zM1570 309h1v1h-1zM1573 309h1v1h-1zM1576 309h1v1h-1zM1579 309h1v1h-1zM1582 309h1v1h-1zM1585 309h1v1h-1zM1588 309h1v1h-1zM1591 309h1v1h-1zM1594 309h1v1h-1zM1597 309h1v1h-1zM1600 309h1v1h-1zM1603 309h1v1h-1zM1606 309h1v1h-1zM1609 309h1v1h-1zM1612 309h1v1h-1zM1615 309h1v1h-1zM1618 309h1v1h-1zM1621 309h1v1h-1zM1624 309h1v1h-1zM1627 309h1v1h-1zM1630 309h1v1h-1zM1633 309h1v1h-1zM1636 309h1v1h-1zM1639 309h1v1h-1zM1642 309h1v1h-1zM1645 309h1v1h-1zM1648 309h1v1h-1zM1651 309h1v1h-1zM1654 309h1v1h-1zM1657 309h1v1h-1zM1660 309h1v1h-1zM1663 309h1v1h-1zM1666 309h1v1h-1zM1669 309h1v1h-1zM1672 309h1v1h-1zM1675 309h1v1h-1zM1678 309h1v1h-1zM1681 309h1v1h-1zM1684 309h1v1h-1zM1687 309h1v1h-1zM1690 309h1v1h-1zM1693 309h1v1h-1zM1696 309h1v1h-1zM1699 309h1v1h-1zM1702 309h1v1h-1zM1705 309h1v1h-1zM1708 309h1v1h-1zM1711 309h1v1h-1zM1714 309h1v1h-1zM1717 309h1v1h-1zM1720 309h1v1h-1zM1723 309h1v1h-1zM1726 309h1v1h-1zM1729 309h1v1h-1zM1732 309h1v1h-1zM1735 309h1v1h-1z" fill="#f03f42"/>
<g fill="#fff" stroke="#fff" stroke-width="4.6" stroke-linejoin="round"><path d="M13.1 431.2H24.7V445.8H19.1V436.8H13.1Z"/><circle cx="29.9" cy="433.9" r="2.8"/><path d="M34.7 431.2H42.7L37.7 445.8H30.2Z"/><text x="49.4" y="445.8" font-size="20.3" font-weight="bold" textLength="121" lengthAdjust="spacingAndGlyphs">TradingView</text></g>
<g fill="#131722"><path d="M13.1 431.2H24.7V445.8H19.1V436.8H13.1Z"/><circle cx="29.9" cy="433.9" r="2.8"/><path d="M34.7 431.2H42.7L37.7 445.8H30.2Z"/><text x="49.4" y="445.8" font-size="20.3" font-weight="bold" textLength="121" lengthAdjust="spacingAndGlyphs">TradingView</text></g>
<circle cx="1438.7" cy="447.4" r="12" fill="#fff"/>
<path d="M1441.6 437.8A9.6 9.6 0 1 0 1448.1 444.6" fill="none" stroke="#9125ab" stroke-width="1.6"/>
<path d="M1440.9 442.6L1435.1 447.4H1442.3L1435.6 452.2" fill="none" stroke="#9125ab" stroke-width="1.6" stroke-linejoin="round" stroke-linecap="round"/>
<circle cx="1445.4" cy="440.5" r="2.6" fill="#f7282f"/>
<path d="M0.5 0V486" stroke="#dfe2ea" stroke-width="1"/>
<path d="M0 460.5H1816" stroke="#e0e1e6" stroke-width="1"/>
<path d="M1736.5 0V486" stroke="#e0e1e6" stroke-width="1"/>
<text x="1744.8" y="52.0" font-size="13" fill="#131722" textLength="60.5">72,500.00</text>
<text x="1744.8" y="82.5" font-size="13" fill="#131722" textLength="60.5">70,000.00</text>
<text x="1744.8" y="112.9" font-size="13" fill="#131722" textLength="60.5">67,500.00</text>
<text x="1744.8" y="143.4" font-size="13" fill="#131722" textLength="60.5">65,000.00</text>
<text x="1744.8" y="173.8" font-size="13" fill="#131722" textLength="60.5">62,500.00</text>
<text x="1744.8" y="204.3" font-size="13" fill="#131722" textLength="60.5">60,000.00</text>
<text x="1744.8" y="234.8" font-size="13" fill="#131722" textLength="60.5">57,500.00</text>
<text x="1744.8" y="265.2" font-size="13" fill="#131722" textLength="60.5">55,000.00</text>
<text x="1744.8" y="295.7" font-size="13" fill="#131722" textLength="60.5">52,500.00</text>
<text x="1744.8" y="326.1" font-size="13" fill="#131722" textLength="60.5">50,000.00</text>
<text x="1744.8" y="356.6" font-size="13" fill="#131722" textLength="60.5">47,500.00</text>
<text x="1744.8" y="387.1" font-size="13" fill="#131722" textLength="60.5">45,000.00</text>
<text x="1744.8" y="417.5" font-size="13" fill="#131722" textLength="60.5">42,500.00</text>
<text x="1744.8" y="448.0" font-size="13" fill="#131722" textLength="60.5">40,000.00</text>
<path d="M1736 301H1809a2 2 0 0 1 2 2V316a2 2 0 0 1 -2 2H1736Z" fill="#f03f42"/>
<text x="1745" y="312.8" font-size="13" fill="#fff" textLength="59.9">51,138.00</text>
<rect x="1740.5" y="2.5" width="71" height="25" rx="4" fill="#fff" stroke="#d8dbe3"/>
<text x="1743.8" y="19.2" font-size="12" fill="#131722">USDT</text>
<path d="M1802.6 14.2L1804.8 16.4L1807 14.2" fill="none" stroke="#131722" stroke-width="1.3" stroke-linecap="round" stroke-linejoin="round"/>
<path d="M1783.40 474.35L1779.95 480.20L1773.05 480.20L1769.60 474.35L1773.05 468.50L1779.95 468.50Z" fill="none" stroke="#131722" stroke-width="1.1" stroke-linejoin="round"/>
<circle cx="1776.5" cy="474.35" r="2.0" fill="none" stroke="#131722" stroke-width="1.0"/>
<text x="21.8" y="479" font-size="12" text-anchor="middle" letter-spacing="0.75" fill="#131722">Jul</text>
<text x="130.8" y="479" font-size="12" text-anchor="middle" letter-spacing="0.75" fill="#131722">Aug</text>
<text x="240.8" y="479" font-size="12" text-anchor="middle" letter-spacing="0.75" fill="#131722">Sep</text>
<text x="346.8" y="479" font-size="12" text-anchor="middle" letter-spacing="0.75" fill="#131722">Oct</text>
<text x="456.8" y="479" font-size="12" text-anchor="middle" letter-spacing="0.75" fill="#131722">Nov</text>
<text x="562.8" y="479" font-size="12" text-anchor="middle" letter-spacing="0.75" fill="#131722">Dec</text>
<text x="655.3" y="479" font-size="12" fill="#131722" font-weight="bold" textLength="32.2">2024</text>
<text x="781.8" y="479" font-size="12" text-anchor="middle" letter-spacing="0.75" fill="#131722">Feb</text>
<text x="883.8" y="479" font-size="12" text-anchor="middle" letter-spacing="0.75" fill="#131722">Mar</text>
<text x="993.8" y="479" font-size="12" text-anchor="middle" letter-spacing="0.75" fill="#131722">Apr</text>
<text x="1099.8" y="479" font-size="12" text-anchor="middle" letter-spacing="0.75" fill="#131722">May</text>
<text x="1208.8" y="479" font-size="12" text-anchor="middle" letter-spacing="0.75" fill="#131722">Jun</text>
<text x="1315.8" y="479" font-size="12" text-anchor="middle" letter-spacing="0.75" fill="#131722">Jul</text>
<text x="1424.8" y="479" font-size="12" text-anchor="middle" letter-spacing="0.75" fill="#131722">Aug</text>
<text x="1534.8" y="479" font-size="12" text-anchor="middle" letter-spacing="0.75" fill="#131722">Sep</text>
<text x="1640.8" y="479" font-size="12" text-anchor="middle" letter-spacing="0.75" fill="#131722">Oct</text>
<ellipse cx="919.5" cy="51.3" rx="32.0" ry="25.1" fill="none" stroke="#fe1010" stroke-width="2.9"/>
<ellipse cx="980.1" cy="64.6" rx="20.6" ry="15.8" fill="none" stroke="#fe1010" stroke-width="2.9"/>
<ellipse cx="1028.6" cy="59.2" rx="19.7" ry="21.9" fill="none" stroke="#fe1010" stroke-width="2.9"/>
<ellipse cx="1167.2" cy="63.1" rx="19.5" ry="16.6" fill="none" stroke="#fe1010" stroke-width="2.9"/>
<ellipse cx="1228.9" cy="63.9" rx="15.2" ry="15.5" fill="none" stroke="#fe1010" stroke-width="2.9"/>
<ellipse cx="1414.3" cy="73.8" rx="13.4" ry="14.4" fill="none" stroke="#fe1010" stroke-width="2.9"/>
<ellipse cx="1768.6" cy="77.05" rx="45.2" ry="17.9" fill="none" stroke="#fe1010" stroke-width="2.9"/>
<circle cx="22.2" cy="10.6" r="6.1" fill="#1a9c8c"/>
<circle cx="21.1" cy="10.2" r="4.1" fill="#fff"/>
<path d="M19.6 8.4H24.2L23.4 9.3H22.4V12.4H21.2V9.3H20.2Z" fill="#7cc8bd"/>
<circle cx="15.9" cy="16.7" r="7.1" fill="#fff"/>
<circle cx="15.9" cy="16.7" r="6.05" fill="#f68b2c"/>
<text x="15.9" y="19.7" font-size="8.5" font-weight="bold" fill="#fff" text-anchor="middle">₿</text>
<text y="19.8" font-size="16" fill="#131722"><tspan x="31.4" textLength="131.8">Bitcoin / TetherUS</tspan><tspan x="168.3" text-anchor="middle">·</tspan><tspan x="174.6" textLength="20.6">1D</tspan><tspan x="201.2" text-anchor="middle">·</tspan><tspan x="207.0" textLength="68.9">BINANCE</tspan></text>
<circle cx="298.9" cy="13.9" r="9" fill="#089981" fill-opacity="0.15"/>
<circle cx="298.9" cy="13.9" r="4.1" fill="#089981"/>
<text x="324.3" y="18.8" font-size="13.5" fill="#131722">O</text>
<text x="335.5" y="18.8" font-size="13" fill="#f03f42" textLength="64.6">58,161.00</text>
<text x="405.9" y="18.8" font-size="13.5" fill="#131722">H</text>
<text x="416.1" y="18.8" font-size="13" fill="#f03f42" textLength="64.6">58,305.59</text>
<text x="487.2" y="18.8" font-size="13.5" fill="#131722">L</text>
<text x="494.7" y="18.8" font-size="13" fill="#f03f42" textLength="64.7">49,000.00</text>
<text x="565.0" y="18.8" font-size="13.5" fill="#131722">C</text>
<text x="575.4" y="18.8" font-size="13" fill="#f03f42" textLength="64.2">51,138.00</text>
<text x="645.5" y="18.8" font-size="13" fill="#f03f42" textLength="64.5">−7,023.00</text>
<text x="714.2" y="18.8" font-size="13" fill="#f03f42" textLength="65.2">(−12.08%)</text>
<rect x="9.5" y="30.5" width="79" height="23" rx="4" fill="#fff" stroke="#f03f42"/>
<text x="16.6" y="46.8" font-size="13" fill="#f03f42" textLength="64.8">51,137.99</text>
<text x="97.3" y="46.8" font-size="11.2" fill="#131722" textLength="23.8">0.01</text>
<rect x="130.5" y="30.5" width="79" height="23" rx="4" fill="#fff" stroke="#2962ff"/>
<text x="137.7" y="46.8" font-size="13" fill="#2962ff" textLength="64.2">51,138.00</text>
<text x="10.2" y="74.8" font-size="13" fill="#131722">Vol · BTC</text>
<text x="73.0" y="74.8" font-size="13" fill="#f03f42" textLength="55.2">90.744 K</text>
<rect x="10.5" y="84.5" width="28" height="20" rx="3" fill="#fff" fill-opacity="0.85" stroke="#d1d4dc"/>
<path d="M20.7 96.5L24.5 92.8L28.3 96.5" fill="none" stroke="#131722" stroke-width="1.4" stroke-linecap="round" stroke-linejoin="round"/>
</svg></div></body></html>
